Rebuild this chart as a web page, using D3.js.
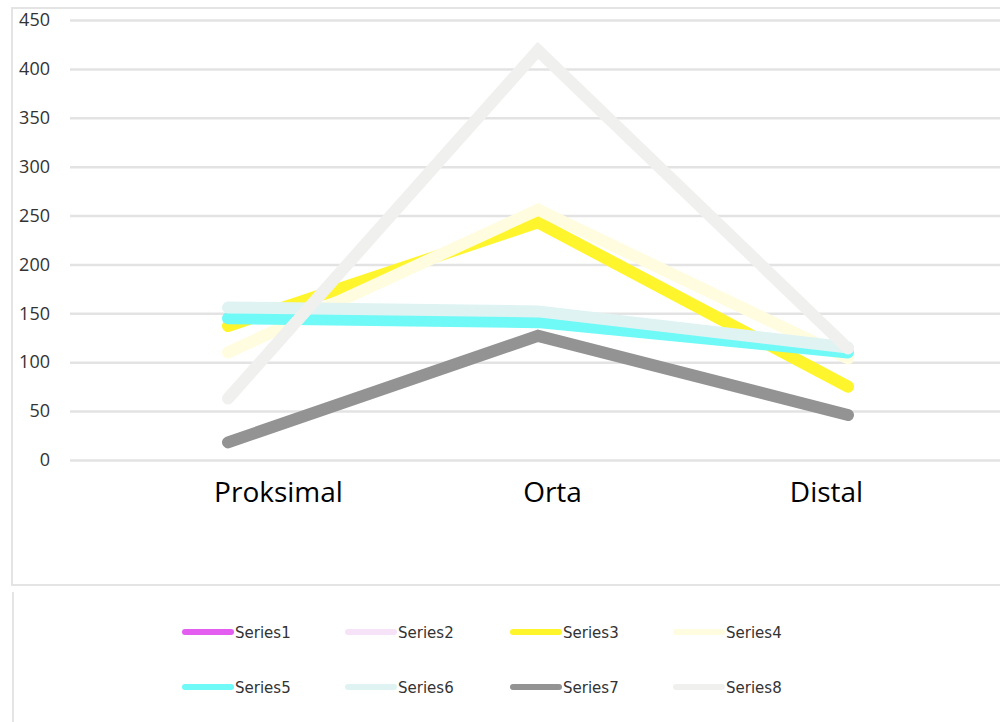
<!DOCTYPE html>
<html>
<head>
<meta charset="utf-8">
<script src="https://cdn.jsdelivr.net/npm/d3@7"></script>
<style>
  html, body { margin: 0; padding: 0; background: #fff; }
  svg { display: block; }
</style>
</head>
<body>
<svg id="chart" width="1000" height="722"></svg>
<script>
// Categories along the x axis
const categories = ["Proksimal", "Orta", "Distal"];

// Series values per category (null = no data)
const series1 = [null, null, null];
const series2 = [null, null, null];
const series3 = [137, 243, 75];
const series4 = [110, 256, 104];
const series5 = [145, 141, 110];
const series6 = [156, 152, 115];
const series7 = [18, 127, 46];
const series8 = [63, 419, 114];

const seriesNames = ["Series1", "Series2", "Series3", "Series4", "Series5", "Series6", "Series7", "Series8"];
const seriesColors = ["#e35ef0", "#f7e3f8", "#fff52c", "#fffce0", "#6ff9f7", "#dff3f3", "#939393", "#f0f0ee"];
const yTicks = [0, 50, 100, 150, 200, 250, 300, 350, 400, 450];

const allSeries = [series1, series2, series3, series4, series5, series6, series7, series8]
  .map((values, i) => ({ name: seriesNames[i], color: seriesColors[i], values }));

const svg = d3.select("#chart");

// Scales
const x = d3.scalePoint().domain(categories).range([228, 848]);
const xLabel = d3.scalePoint().domain(categories).range([278, 826]);
const y = d3.scaleLinear().domain([0, 450]).range([460, 20]);

// Outer frames
svg.append("path")
  .attr("d", "M1000,8 H12 V585 H1000")
  .attr("fill", "none").attr("stroke", "#e4e4e4").attr("stroke-width", 2);
svg.append("path")
  .attr("d", "M13,722 V592")
  .attr("fill", "none").attr("stroke", "#e4e4e4").attr("stroke-width", 2);

// Gridlines and y tick labels
const yAxis = d3.axisLeft(y).tickValues(yTicks).tickSize(-930).tickPadding(20);
const gy = svg.append("g").attr("transform", "translate(70,0)").call(yAxis);
gy.select(".domain").remove();
gy.selectAll(".tick line").attr("stroke", "#e3e3e3").attr("stroke-width", 2.5);
gy.selectAll(".tick text")
  .attr("fill", "#333")
  .attr("font-family", "'Open Sans', 'DejaVu Sans', sans-serif")
  .attr("font-size", 18);

// Category labels
const xAxis = d3.axisBottom(xLabel).tickSize(0).tickPadding(0);
const gx = svg.append("g").attr("transform", "translate(0,502)").call(xAxis);
gx.select(".domain").remove();
gx.selectAll(".tick text")
  .attr("fill", "#000")
  .attr("dy", "0")
  .attr("font-family", "'Open Sans', 'Liberation Sans', sans-serif")
  .attr("font-size", 28);

// Lines
const line = d3.line()
  .defined(d => d != null)
  .x((d, i) => x(categories[i]))
  .y(d => y(d));

svg.append("g").selectAll("path")
  .data(allSeries)
  .join("path")
  .attr("d", s => line(s.values))
  .attr("fill", "none")
  .attr("stroke", s => s.color)
  .attr("stroke-width", 12)
  .attr("stroke-linecap", "round")
  .attr("stroke-linejoin", "miter");

// Legend
const legendCols = [182, 345, 510, 673];
const legendRows = [632, 687];
const legend = svg.append("g").selectAll("g")
  .data(allSeries)
  .join("g")
  .attr("transform", (s, i) => `translate(${legendCols[i % 4]},${legendRows[Math.floor(i / 4)]})`);
legend.append("line")
  .attr("x1", 3).attr("x2", 49).attr("y1", 0).attr("y2", 0)
  .attr("stroke", s => s.color).attr("stroke-width", 6).attr("stroke-linecap", "round");
legend.append("text")
  .attr("x", 53).attr("y", 1).attr("dy", "0.35em")
  .attr("fill", "#333")
  .attr("font-family", "'DejaVu Sans', sans-serif")
  .attr("font-size", 15)
  .text(s => s.name);
</script>
</body>
</html>
